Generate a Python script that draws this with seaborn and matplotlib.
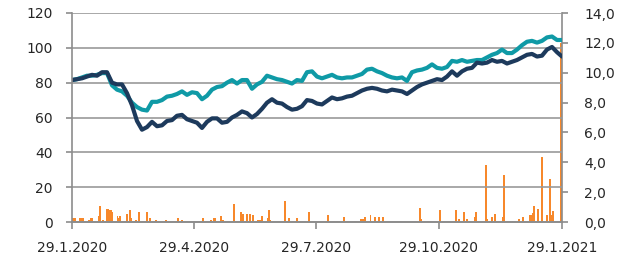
import matplotlib
matplotlib.use("Agg")
import matplotlib.pyplot as plt
import matplotlib.dates as mdates
from matplotlib.ticker import FixedLocator, FuncFormatter, MultipleLocator
import seaborn as sns
import pandas as pd

# price lines (left axis), sampled evenly from 29.1.2020 to 29.1.2021
share_price = [81.5, 82, 82.5, 83.5, 84.5, 84, 86, 86, 80, 79, 79, 74, 67, 58, 53, 54.5,
               57.5, 55, 55.5, 58, 58.5, 61, 61.5, 59, 58, 57, 54, 57.5, 59.5, 59.5, 57,
               57.5, 60, 61.5, 63.5, 62.5, 60, 62, 65, 68.5, 70.5, 68.5, 68, 66, 64.5, 65,
               66.5, 70, 69.5, 68, 67.5, 69.5, 71.5, 70.5, 71, 72, 72.5, 74, 75.5, 76.5, 77,
               76.5, 75.5, 75, 76, 75.5, 75, 73.5, 75.5, 77.5, 79, 80, 81, 82, 81.5, 83.5,
               86.5, 84, 86.5, 88, 88.5, 91.5, 91, 91.5, 93, 92, 92.5, 91, 92, 93, 94.5, 96,
               96.5, 95, 95.5, 99, 100.5, 97.5, 95]
index_level = [81.5, 82, 83, 84, 84, 84.5, 85.5, 85.5, 78.5, 76, 75, 72.5, 68.5, 66, 64.5, 64,
               69, 69, 70, 72, 72.5, 73.5, 75, 73, 74.5, 74, 70.5, 72.5, 76, 77.5, 78,
               80, 81.5, 79.5, 81.5, 81.5, 76.5, 79, 80.5, 84, 83, 82, 81.5, 80.5, 79.5, 81.5,
               81, 86, 86.5, 83.5, 82.5, 83.5, 84.5, 83, 82.5, 83, 83, 84, 85, 87.5, 88,
               86.5, 85.5, 84, 83, 82.5, 83, 81, 86, 87, 87.5, 88.5, 90.5, 88.5, 88, 89,
               92.5, 92, 93, 92, 92.5, 93, 93, 94.5, 96, 97, 99, 97, 97, 99, 101.5, 103.5,
               104, 103, 104, 106, 106.5, 104.5, 104.5]

# daily turnover bars (right axis)
bar_dates = ["2020-01-30", "2020-01-31",
             "2020-02-04", "2020-02-05", "2020-02-06", "2020-02-11", "2020-02-12", "2020-02-13",
             "2020-02-18", "2020-02-19", "2020-02-21", "2020-02-24", "2020-02-25", "2020-02-26",
             "2020-02-27", "2020-02-28",
             "2020-03-03", "2020-03-04", "2020-03-05", "2020-03-10", "2020-03-12", "2020-03-13",
             "2020-03-17", "2020-03-19", "2020-03-25", "2020-03-27",
             "2020-04-01", "2020-04-08", "2020-04-17", "2020-04-20",
             "2020-05-06", "2020-05-12", "2020-05-14", "2020-05-15", "2020-05-19", "2020-05-21",
             "2020-05-29",
             "2020-06-03", "2020-06-05", "2020-06-08", "2020-06-10", "2020-06-12", "2020-06-16",
             "2020-06-17", "2020-06-18", "2020-06-19", "2020-06-23", "2020-06-24", "2020-06-25",
             "2020-07-06", "2020-07-09", "2020-07-15", "2020-07-24",
             "2020-08-07", "2020-08-12", "2020-08-14", "2020-08-19", "2020-08-27", "2020-08-28",
             "2020-09-01", "2020-09-02", "2020-09-03", "2020-09-04", "2020-09-08", "2020-09-11",
             "2020-09-14", "2020-09-17",
             "2020-10-01", "2020-10-15", "2020-10-16", "2020-10-21", "2020-10-23", "2020-10-30",
             "2020-11-11", "2020-11-13", "2020-11-17", "2020-11-19", "2020-11-25", "2020-11-26",
             "2020-12-03", "2020-12-04", "2020-12-08", "2020-12-10", "2020-12-16", "2020-12-17",
             "2020-12-23", "2020-12-28", "2020-12-31",
             "2021-01-05", "2021-01-06", "2021-01-07", "2021-01-08", "2021-01-11", "2021-01-14",
             "2021-01-15", "2021-01-18", "2021-01-20", "2021-01-21", "2021-01-22", "2021-01-28",
             "2021-01-29"]
bar_values = [0.27, 0.27,
              0.27, 0.27, 0.27, 0.15, 0.27, 0.27,
              0.38, 1.05, 0.15, 0.90, 0.85, 0.83,
              0.80, 0.67,
              0.38, 0.27, 0.42, 0.56, 0.78, 0.27,
              0.15, 0.67, 0.67, 0.27,
              0.15, 0.15, 0.27, 0.15,
              0.27, 0.15, 0.27, 0.27, 0.38, 0.15,
              1.20,
              0.65, 0.54, 0.54, 0.54, 0.49, 0.15,
              0.15, 0.15, 0.38, 0.27, 0.78, 0.15,
              1.43, 0.27, 0.27, 0.67,
              0.45, 0.10, 0.10, 0.33, 0.10, 0.10,
              0.22, 0.22, 0.22, 0.33, 0.49, 0.33,
              0.33, 0.33,
              0.10, 0.95, 0.22, 0.10, 0.10, 0.80,
              0.80, 0.22, 0.70, 0.22, 0.33, 0.70,
              3.85, 0.22, 0.35, 0.55, 0.35, 3.15,
              0.10, 0.22, 0.33,
              0.50, 0.50, 0.63, 1.10, 0.86, 4.35,
              0.10, 0.45, 2.88, 0.45, 0.74, 12.0,
              0.74]

tick_dates = ["2020-01-29", "2020-04-29", "2020-07-29", "2020-10-29", "2021-01-29"]
tick_labels = ["29.1.2020", "29.4.2020", "29.7.2020", "29.10.2020", "29.1.2021"]

start, end = pd.Timestamp(tick_dates[0]), pd.Timestamp(tick_dates[-1])
line_dates = pd.date_range(start, end, periods=len(share_price))
df = pd.concat([
    pd.DataFrame({"date": line_dates, "value": index_level, "series": "index"}),
    pd.DataFrame({"date": line_dates, "value": share_price, "series": "share"}),
])

sns.set_style("white")
plt.rcParams["font.family"] = ["DejaVu Sans"]

grey = "#8c8c8c"
fig = plt.figure(figsize=(6.31, 2.58), dpi=100)
ax = fig.add_axes([72 / 631, 1 - 222 / 258, 490 / 631, 209 / 258])
ax2 = ax.twinx()

ax2.bar(pd.to_datetime(bar_dates), bar_values, width=1.4, color="#f7882b", linewidth=0)
ax2.set_ylim(0, 14)
ax2.yaxis.set_major_locator(MultipleLocator(2))
ax2.yaxis.set_major_formatter(FuncFormatter(lambda v, p: f"{v:.1f}".replace(".", ",")))

sns.lineplot(data=df, x="date", y="value", hue="series", hue_order=["index", "share"],
             palette={"index": "#0f9aa6", "share": "#1d3a5c"}, linewidth=3.0,
             legend=False, ax=ax)
ax.set_zorder(ax2.get_zorder() + 1)
ax.patch.set_visible(False)

ax.set_ylim(0, 120)
ax.yaxis.set_major_locator(MultipleLocator(20))
ax.set_xlim(start, end)
ax.xaxis.set_major_locator(FixedLocator(mdates.date2num(pd.to_datetime(tick_dates))))
ax.set_xticklabels(tick_labels)
ax.grid(axis="y", color="#999999", linewidth=1.2)
ax.set_axisbelow(True)
ax.set_xlabel("")
ax.set_ylabel("")

for a in (ax, ax2):
    for side in ("left", "right", "bottom"):
        a.spines[side].set_color(grey)
        a.spines[side].set_linewidth(1.2)
    a.spines["top"].set_visible(False)
ax.spines["right"].set_visible(False)
ax2.spines["left"].set_visible(False)

ax.tick_params(axis="y", direction="out", length=4, width=1.2, color=grey,
               labelsize=10, pad=10, left=True)
ax.tick_params(axis="x", direction="out", length=5, width=1.2, color=grey,
               labelsize=10, pad=9, bottom=True)
ax2.tick_params(axis="y", direction="out", length=4, width=1.2, color=grey,
                labelsize=10, pad=12, right=True)

fig.savefig("out.png", dpi=100)
